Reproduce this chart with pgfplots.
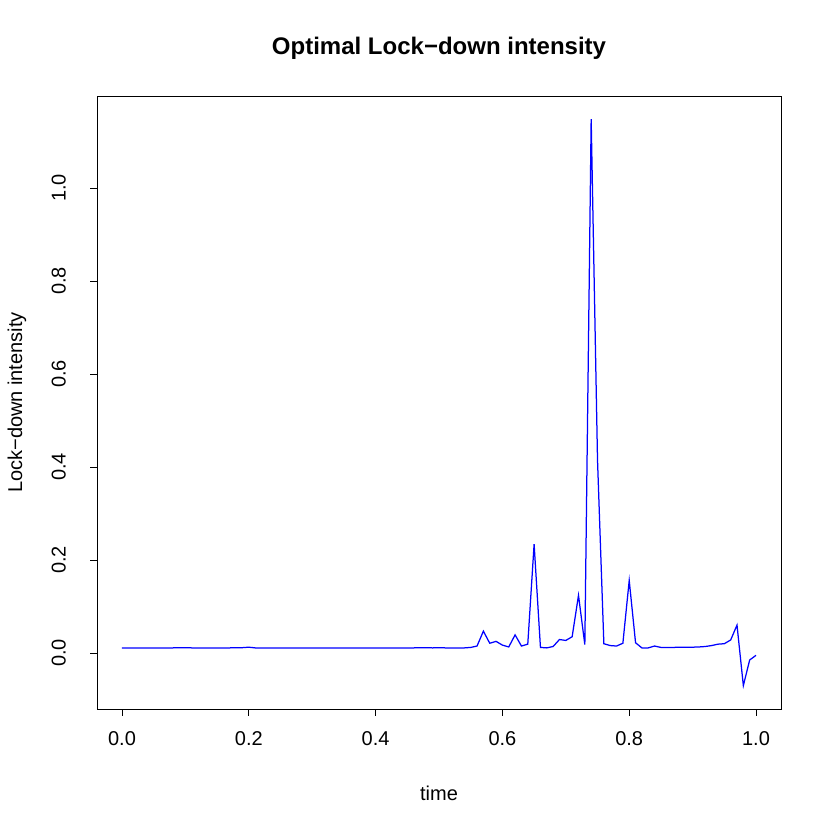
\documentclass[border=0pt]{standalone}
\usepackage{fontspec}
\setmainfont{Liberation Sans}
\usepackage{pgfplots}
\pgfplotsset{compat=1.18}
\begin{document}
\begin{tikzpicture}[x=0.6pt,y=0.6pt]
\useasboundingbox (0,0) rectangle (830,830);
\begin{axis}[
    at={(97*0.6pt,121*0.6pt)}, anchor=south west,
    scale only axis,
    width=410.4pt, height=367.8pt,
    xmin=-0.0394, xmax=1.0394,
    ymin=-0.1204, ymax=1.1978,
    xtick={0,0.2,0.4,0.6,0.8,1.0},
    ytick={0,0.2,0.4,0.6,0.8,1.0},
    /pgf/number format/assume math mode=true,
    /pgf/number format/.cd, fixed, fixed zerofill, precision=1, /pgfplots/.cd,
    tick align=outside,
    major tick length=4.2pt,
    tick style={black, line width=0.45pt},
    axis line style={line width=0.45pt},
    xtick pos=bottom, ytick pos=left,
    ticklabel style={font=\fontsize{12}{14}\selectfont},
    xticklabel style={yshift=-6pt},
    yticklabel style={xshift=-11pt, rotate=90, anchor=south},
    clip=false,
]
\addplot[blue, line width=0.75pt, mark=none] coordinates {
(0.00,0.011) (0.01,0.011) (0.02,0.011) (0.03,0.011) (0.04,0.011) (0.05,0.0105)
(0.06,0.0105) (0.07,0.0105) (0.08,0.011) (0.09,0.0115) (0.10,0.0115)
(0.11,0.011) (0.12,0.011) (0.13,0.011) (0.14,0.011) (0.15,0.011)
(0.16,0.011) (0.17,0.011) (0.18,0.0115) (0.19,0.0115) (0.20,0.0125)
(0.21,0.011) (0.22,0.011) (0.23,0.011) (0.24,0.011) (0.25,0.011)
(0.26,0.011) (0.27,0.011) (0.28,0.011) (0.29,0.011) (0.30,0.011)
(0.31,0.011) (0.32,0.011) (0.33,0.011) (0.34,0.011) (0.35,0.011)
(0.36,0.011) (0.37,0.011) (0.38,0.011) (0.39,0.011) (0.40,0.011)
(0.41,0.011) (0.42,0.011) (0.43,0.011) (0.44,0.011) (0.45,0.011)
(0.46,0.011) (0.47,0.0115) (0.48,0.0115) (0.49,0.011) (0.50,0.0115)
(0.51,0.011) (0.52,0.011) (0.53,0.011) (0.54,0.011) (0.55,0.012)
(0.56,0.015) (0.57,0.047) (0.58,0.021) (0.59,0.025) (0.60,0.017)
(0.61,0.013) (0.62,0.039) (0.63,0.015) (0.64,0.019) (0.65,0.234)
(0.66,0.012) (0.67,0.011) (0.68,0.014) (0.69,0.029) (0.70,0.027)
(0.71,0.035) (0.72,0.124) (0.73,0.018) (0.74,1.148) (0.75,0.415)
(0.76,0.020) (0.77,0.016) (0.78,0.015) (0.79,0.021) (0.80,0.156)
(0.81,0.022) (0.82,0.011) (0.83,0.011) (0.84,0.015) (0.85,0.012)
(0.86,0.012) (0.87,0.012) (0.88,0.0125) (0.89,0.0125) (0.90,0.0125)
(0.91,0.013) (0.92,0.014) (0.93,0.016) (0.94,0.019) (0.95,0.020)
(0.96,0.028) (0.97,0.060) (0.98,-0.070) (0.99,-0.015) (1.00,-0.005)
};
\end{axis}
\node[font=\fontsize{14.4}{17}\selectfont\bfseries] at (439,782) {Optimal Lock−down intensity};
\node[font=\fontsize{12}{14}\selectfont] at (439,37) {time};
\node[font=\fontsize{12}{14}\selectfont, rotate=90] at (17,427.5) {Lock−down intensity};
\end{tikzpicture}
\end{document}
